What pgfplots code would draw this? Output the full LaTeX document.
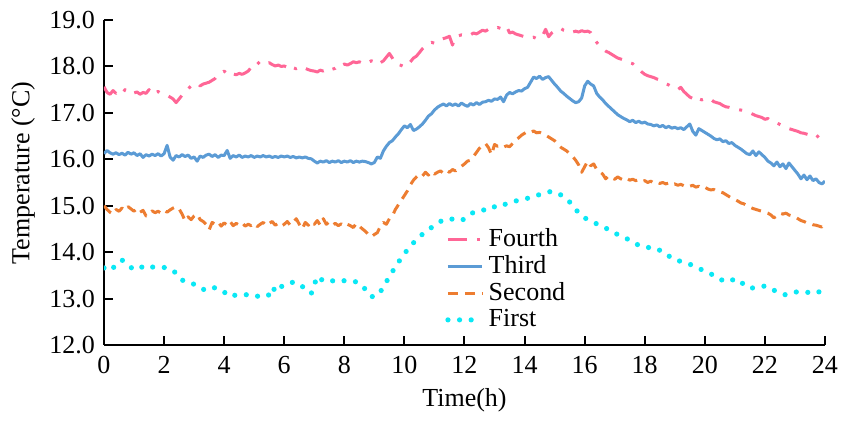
\documentclass[border=0pt]{standalone}
\usepackage{fontspec}
\setmainfont{Liberation Serif}
\usepackage{pgfplots}
\pgfplotsset{compat=1.18}
\definecolor{pinkc}{RGB}{255,102,150}
\definecolor{bluec}{RGB}{91,155,213}
\definecolor{orangec}{RGB}{237,125,49}
\definecolor{cyanc}{RGB}{10,232,245}
\begin{document}
\fontsize{13}{15}\selectfont
\begin{tikzpicture}
\begin{axis}[
  scale only axis, width=360.5pt, height=162.5pt,
  at={(0,0)}, anchor=south west,
  xmin=0, xmax=24, ymin=12, ymax=19,
  xtick={0,2,...,24}, ytick={12,13,...,19},
  axis x line*=bottom, axis y line*=left,
  axis line style={line width=1pt},
  tick align=inside, major tick length=4.5pt,
  tick style={black, line width=1pt},
  /pgf/number format/assume math mode=true,
  yticklabel style={/pgf/number format/.cd, fixed, fixed zerofill, precision=1},
  xticklabel style={yshift=-1pt, inner xsep=0pt},
  xlabel={Time(h)}, ylabel={Temperature (°C)},
  xlabel style={at={(axis description cs:0.5,0)}, anchor=base, yshift=-31pt},
  ylabel style={at={(axis description cs:-0.1123,0.529)}, rotate=0, anchor=center, inner sep=0pt},
  legend style={at={(axis cs:11.15,14.69)}, anchor=north west, draw=none, fill=none, row sep=-1.5pt},
  legend cell align=left,
  every axis plot/.append style={line width=1.5pt, line join=round},
]
% Fourth
\addplot[pinkc, dash pattern=on 9.5pt off 5pt on 1.5pt off 5pt] coordinates {
(0.0,17.56)(0.1,17.44)(0.2,17.40)(0.3,17.48)(0.4,17.42)(0.5,17.46)(0.6,17.41)(0.7,17.50)(0.8,17.44)(0.9,17.46)
(1.0,17.43)(1.1,17.45)(1.2,17.40)(1.3,17.44)(1.4,17.42)(1.5,17.50)(1.6,17.40)(1.7,17.44)(1.8,17.46)(1.9,17.42)
(2.0,17.40)(2.1,17.38)(2.2,17.34)(2.3,17.30)(2.4,17.22)(2.5,17.30)(2.6,17.38)(2.7,17.46)(2.8,17.52)(2.9,17.58)
(3.0,17.60)(3.1,17.64)(3.2,17.58)(3.3,17.62)(3.4,17.64)(3.5,17.66)(3.6,17.70)(3.7,17.74)(3.8,17.82)(3.9,17.86)
(4.0,17.90)(4.1,17.84)(4.2,17.80)(4.3,17.84)(4.4,17.82)(4.5,17.85)(4.6,17.83)(4.7,17.86)(4.8,17.90)(4.9,17.98)
(5.0,18.06)(5.1,18.10)(5.2,18.04)(5.3,18.02)(5.4,18.06)(5.5,18.08)(5.6,18.04)(5.7,18.01)(5.8,18.03)(5.9,18.00)
(6.0,18.01)(6.1,17.98)(6.2,18.03)(6.3,17.97)(6.4,17.95)(6.5,17.98)(6.6,17.94)(6.7,17.96)(6.8,17.93)(6.9,17.91)
(7.0,17.90)(7.1,17.88)(7.2,17.92)(7.3,17.90)(7.4,17.93)(7.5,17.90)(7.6,17.94)(7.7,17.96)(7.8,18.04)(7.9,18.02)
(8.0,18.05)(8.1,18.03)(8.2,18.06)(8.3,18.10)(8.4,18.08)(8.5,18.10)(8.6,18.07)(8.7,18.11)(8.8,18.09)(8.9,18.12)
(9.0,18.10)(9.1,18.14)(9.2,18.08)(9.3,18.12)(9.4,18.20)(9.5,18.28)(9.6,18.18)(9.7,18.06)(9.8,18.04)(9.9,18.02)
(10.0,17.99)(10.1,18.02)(10.2,18.10)(10.3,18.18)(10.4,18.22)(10.5,18.30)(10.6,18.38)(10.7,18.44)(10.8,18.48)(10.9,18.52)
(11.0,18.50)(11.1,18.56)(11.2,18.58)(11.3,18.60)(11.4,18.62)(11.5,18.65)(11.6,18.46)(11.7,18.64)(11.8,18.66)(11.9,18.68)
(12.0,18.67)(12.1,18.70)(12.2,18.68)(12.3,18.72)(12.4,18.70)(12.5,18.74)(12.6,18.78)(12.7,18.76)(12.8,18.80)(12.9,18.82)
(13.0,18.81)(13.1,18.84)(13.2,18.82)(13.3,18.85)(13.4,18.87)(13.5,18.72)(13.6,18.74)(13.7,18.70)(13.8,18.68)(13.9,18.66)
(14.0,18.64)(14.1,18.65)(14.2,18.62)(14.3,18.63)(14.4,18.60)(14.5,18.61)(14.6,18.66)(14.7,18.80)(14.8,18.64)(14.9,18.72)
(15.0,18.76)(15.1,18.80)(15.2,18.82)(15.3,18.78)(15.4,18.76)(15.5,18.78)(15.6,18.74)(15.7,18.76)(15.8,18.74)(15.9,18.77)
(16.0,18.75)(16.1,18.76)(16.2,18.73)(16.3,18.62)(16.4,18.52)(16.5,18.44)(16.6,18.38)(16.7,18.33)(16.8,18.30)(16.9,18.26)
(17.0,18.22)(17.1,18.18)(17.2,18.16)(17.3,18.14)(17.4,18.10)(17.5,18.08)(17.6,18.06)(17.7,18.00)(17.8,17.94)(17.9,17.88)
(18.0,17.83)(18.1,17.80)(18.2,17.78)(18.3,17.76)(18.4,17.73)(18.5,17.71)(18.6,17.67)(18.7,17.63)(18.8,17.60)(18.9,17.56)
(19.0,17.53)(19.1,17.50)(19.2,17.55)(19.3,17.46)(19.4,17.40)(19.5,17.34)(19.6,17.31)(19.7,17.36)(19.8,17.30)(19.9,17.28)
(20.0,17.30)(20.1,17.27)(20.2,17.29)(20.3,17.24)(20.4,17.22)(20.5,17.20)(20.6,17.16)(20.7,17.13)(20.8,17.12)(20.9,17.10)
(21.0,17.09)(21.1,17.07)(21.2,17.06)(21.3,17.05)(21.4,17.03)(21.5,17.00)(21.6,16.97)(21.7,16.94)(21.8,16.92)(21.9,16.90)
(22.0,16.86)(22.1,16.88)(22.2,16.82)(22.3,16.80)(22.4,16.78)(22.5,16.75)(22.6,16.72)(22.7,16.70)(22.8,16.66)(22.9,16.64)
(23.0,16.62)(23.1,16.60)(23.2,16.57)(23.3,16.56)(23.4,16.54)(23.5,16.52)(23.6,16.48)(23.7,16.46)(23.8,16.52)(23.9,16.49)
(24.0,16.58)
};
\addlegendentry{Fourth}
% Third
\addplot[bluec, solid] coordinates {
(0.0,16.12)(0.1,16.19)(0.2,16.14)(0.3,16.11)(0.4,16.14)(0.5,16.10)(0.6,16.13)(0.7,16.09)(0.8,16.15)(0.9,16.11)
(1.0,16.14)(1.1,16.08)(1.2,16.12)(1.3,16.04)(1.4,16.10)(1.5,16.07)(1.6,16.11)(1.7,16.08)(1.8,16.12)(1.9,16.07)
(2.0,16.12)(2.1,16.30)(2.2,16.05)(2.3,15.98)(2.4,16.08)(2.5,16.05)(2.6,16.10)(2.7,16.06)(2.8,16.09)(2.9,16.02)
(3.0,16.05)(3.1,15.96)(3.2,16.07)(3.3,16.04)(3.4,16.09)(3.5,16.11)(3.6,16.06)(3.7,16.10)(3.8,16.04)(3.9,16.09)
(4.0,16.08)(4.1,16.19)(4.2,16.02)(4.3,16.08)(4.4,16.05)(4.5,16.09)(4.6,16.04)(4.7,16.07)(4.8,16.05)(4.9,16.08)
(5.0,16.04)(5.1,16.07)(5.2,16.05)(5.3,16.08)(5.4,16.05)(5.5,16.07)(5.6,16.04)(5.7,16.06)(5.8,16.04)(5.9,16.07)
(6.0,16.05)(6.1,16.07)(6.2,16.04)(6.3,16.06)(6.4,16.03)(6.5,16.05)(6.6,16.03)(6.7,16.05)(6.8,16.02)(6.9,16.01)
(7.0,15.96)(7.1,15.92)(7.2,15.96)(7.3,15.94)(7.4,15.97)(7.5,15.93)(7.6,15.96)(7.7,15.94)(7.8,15.97)(7.9,15.93)
(8.0,15.96)(8.1,15.94)(8.2,15.97)(8.3,15.93)(8.4,15.96)(8.5,15.94)(8.6,15.96)(8.7,15.95)(8.8,15.93)(8.9,15.90)
(9.0,15.93)(9.1,16.05)(9.2,16.02)(9.3,16.18)(9.4,16.28)(9.5,16.36)(9.6,16.40)(9.7,16.48)(9.8,16.55)(9.9,16.64)
(10.0,16.72)(10.1,16.68)(10.2,16.75)(10.3,16.62)(10.4,16.65)(10.5,16.70)(10.6,16.76)(10.7,16.84)(10.8,16.93)(10.9,16.98)
(11.0,17.06)(11.1,17.12)(11.2,17.16)(11.3,17.19)(11.4,17.15)(11.5,17.20)(11.6,17.16)(11.7,17.19)(11.8,17.15)(11.9,17.21)
(12.0,17.17)(12.1,17.14)(12.2,17.20)(12.3,17.17)(12.4,17.22)(12.5,17.18)(12.6,17.23)(12.7,17.24)(12.8,17.27)(12.9,17.25)
(13.0,17.30)(13.1,17.29)(13.2,17.34)(13.3,17.24)(13.4,17.38)(13.5,17.44)(13.6,17.41)(13.7,17.45)(13.8,17.48)(13.9,17.47)
(14.0,17.52)(14.1,17.55)(14.2,17.66)(14.3,17.77)(14.4,17.74)(14.5,17.79)(14.6,17.72)(14.7,17.76)(14.8,17.78)(14.9,17.70)
(15.0,17.62)(15.1,17.55)(15.2,17.47)(15.3,17.42)(15.4,17.36)(15.5,17.31)(15.6,17.26)(15.7,17.22)(15.8,17.24)(15.9,17.32)
(16.0,17.58)(16.1,17.68)(16.2,17.62)(16.3,17.58)(16.4,17.42)(16.5,17.34)(16.6,17.28)(16.7,17.20)(16.8,17.14)(16.9,17.08)
(17.0,17.02)(17.1,16.96)(17.2,16.92)(17.3,16.88)(17.4,16.85)(17.5,16.81)(17.6,16.84)(17.7,16.79)(17.8,16.82)(17.9,16.78)
(18.0,16.80)(18.1,16.76)(18.2,16.75)(18.3,16.72)(18.4,16.74)(18.5,16.70)(18.6,16.73)(18.7,16.68)(18.8,16.71)(18.9,16.67)
(19.0,16.69)(19.1,16.66)(19.2,16.68)(19.3,16.64)(19.4,16.70)(19.5,16.76)(19.6,16.60)(19.7,16.52)(19.8,16.66)(19.9,16.62)
(20.0,16.58)(20.1,16.54)(20.2,16.50)(20.3,16.45)(20.4,16.42)(20.5,16.44)(20.6,16.38)(20.7,16.40)(20.8,16.34)(20.9,16.36)
(21.0,16.30)(21.1,16.26)(21.2,16.22)(21.3,16.17)(21.4,16.12)(21.5,16.10)(21.6,16.18)(21.7,16.08)(21.8,16.16)(21.9,16.10)
(22.0,16.04)(22.1,15.96)(22.2,15.92)(22.3,15.86)(22.4,15.94)(22.5,15.84)(22.6,15.90)(22.7,15.80)(22.8,15.92)(22.9,15.84)
(23.0,15.76)(23.1,15.68)(23.2,15.58)(23.3,15.66)(23.4,15.56)(23.5,15.64)(23.6,15.54)(23.7,15.58)(23.8,15.50)(23.9,15.47)
(24.0,15.53)
};
\addlegendentry{Third}
% Second
\addplot[orangec, dash pattern=on 5pt off 3.5pt] coordinates {
(0.0,15.00)(0.1,14.92)(0.2,14.86)(0.3,14.82)(0.4,14.92)(0.5,14.88)(0.6,14.95)(0.7,14.90)(0.8,14.98)(0.9,14.93)
(1.0,14.88)(1.1,14.94)(1.2,14.86)(1.3,14.90)(1.4,14.78)(1.5,14.82)(1.6,14.89)(1.7,14.85)(1.8,14.88)(1.9,14.84)
(2.0,14.90)(2.1,14.86)(2.2,14.91)(2.3,14.95)(2.4,14.98)(2.5,14.93)(2.6,14.82)(2.7,14.67)(2.8,14.76)(2.9,14.70)
(3.0,14.78)(3.1,14.82)(3.2,14.70)(3.3,14.66)(3.4,14.60)(3.5,14.48)(3.6,14.64)(3.7,14.60)(3.8,14.65)(3.9,14.56)
(4.0,14.63)(4.1,14.58)(4.2,14.66)(4.3,14.57)(4.4,14.62)(4.5,14.58)(4.6,14.63)(4.7,14.56)(4.8,14.60)(4.9,14.57)
(5.0,14.62)(5.1,14.55)(5.2,14.60)(5.3,14.64)(5.4,14.57)(5.5,14.62)(5.6,14.66)(5.7,14.58)(5.8,14.62)(5.9,14.56)
(6.0,14.60)(6.1,14.66)(6.2,14.58)(6.3,14.64)(6.4,14.72)(6.5,14.60)(6.6,14.50)(6.7,14.64)(6.8,14.58)(6.9,14.66)
(7.0,14.60)(7.1,14.68)(7.2,14.58)(7.3,14.72)(7.4,14.60)(7.5,14.65)(7.6,14.58)(7.7,14.62)(7.8,14.57)(7.9,14.61)
(8.0,14.56)(8.1,14.60)(8.2,14.57)(8.3,14.53)(8.4,14.62)(8.5,14.56)(8.6,14.50)(8.7,14.45)(8.8,14.38)(8.9,14.33)
(9.0,14.38)(9.1,14.42)(9.2,14.56)(9.3,14.64)(9.4,14.60)(9.5,14.72)(9.6,14.78)(9.7,14.92)(9.8,15.02)(9.9,15.12)
(10.0,15.22)(10.1,15.32)(10.2,15.45)(10.3,15.55)(10.4,15.62)(10.5,15.68)(10.6,15.64)(10.7,15.72)(10.8,15.66)(10.9,15.74)
(11.0,15.68)(11.1,15.72)(11.2,15.75)(11.3,15.70)(11.4,15.76)(11.5,15.72)(11.6,15.78)(11.7,15.75)(11.8,15.80)(11.9,15.85)
(12.0,15.90)(12.1,15.96)(12.2,15.98)(12.3,16.06)(12.4,16.15)(12.5,16.24)(12.6,16.30)(12.7,16.34)(12.8,16.25)(12.9,16.10)
(13.0,16.32)(13.1,16.28)(13.2,16.30)(13.3,16.26)(13.4,16.29)(13.5,16.27)(13.6,16.34)(13.7,16.42)(13.8,16.46)(13.9,16.52)
(14.0,16.56)(14.1,16.60)(14.2,16.58)(14.3,16.61)(14.4,16.57)(14.5,16.58)(14.6,16.55)(14.7,16.52)(14.8,16.48)(14.9,16.44)
(15.0,16.40)(15.1,16.32)(15.2,16.26)(15.3,16.22)(15.4,16.18)(15.5,16.12)(15.6,16.06)(15.7,15.98)(15.8,15.88)(15.9,15.72)
(16.0,15.84)(16.1,15.96)(16.2,15.86)(16.3,15.90)(16.4,15.78)(16.5,15.74)(16.6,15.68)(16.7,15.58)(16.8,15.64)(16.9,15.60)
(17.0,15.57)(17.1,15.62)(17.2,15.58)(17.3,15.55)(17.4,15.59)(17.5,15.55)(17.6,15.57)(17.7,15.54)(17.8,15.56)(17.9,15.52)
(18.0,15.54)(18.1,15.50)(18.2,15.53)(18.3,15.49)(18.4,15.51)(18.5,15.48)(18.6,15.50)(18.7,15.47)(18.8,15.49)(18.9,15.45)
(19.0,15.47)(19.1,15.44)(19.2,15.46)(19.3,15.43)(19.4,15.45)(19.5,15.42)(19.6,15.44)(19.7,15.40)(19.8,15.42)(19.9,15.38)
(20.0,15.40)(20.1,15.36)(20.2,15.34)(20.3,15.35)(20.4,15.31)(20.5,15.30)(20.6,15.28)(20.7,15.24)(20.8,15.20)(20.9,15.16)
(21.0,15.13)(21.1,15.10)(21.2,15.06)(21.3,15.04)(21.4,15.00)(21.5,14.97)(21.6,14.94)(21.7,14.92)(21.8,14.90)(21.9,14.88)
(22.0,14.86)(22.1,14.84)(22.2,14.80)(22.3,14.74)(22.4,14.78)(22.5,14.84)(22.6,14.82)(22.7,14.84)(22.8,14.80)(22.9,14.78)
(23.0,14.76)(23.1,14.72)(23.2,14.68)(23.3,14.66)(23.4,14.63)(23.5,14.62)(23.6,14.59)(23.7,14.58)(23.8,14.56)(23.9,14.54)
(24.0,14.64)
};
\addlegendentry{Second}
% First
\addplot[cyanc, line width=2.6pt, line cap=round, dash pattern=on 0pt off 5.8pt] coordinates {
(0.0,13.66)(0.2,13.60)(0.4,13.72)(0.6,13.83)(0.8,13.72)(1.0,13.62)(1.2,13.66)(1.4,13.72)(1.6,13.68)(1.8,13.67)
(2.0,13.67)(2.2,13.64)(2.4,13.55)(2.6,13.40)(2.8,13.33)(3.0,13.31)(3.2,13.22)(3.4,13.18)(3.6,13.24)(3.8,13.22)
(4.0,13.14)(4.2,13.04)(4.4,13.08)(4.6,13.09)(4.8,13.08)(5.0,13.04)(5.2,13.06)(5.4,13.10)(5.6,13.04)(5.7,13.30)
(5.9,13.26)(6.1,13.28)(6.3,13.36)(6.5,13.30)(6.7,13.22)(6.9,13.11)(7.1,13.48)(7.3,13.38)(7.5,13.36)(7.7,13.40)
(7.9,13.38)(8.1,13.39)(8.3,13.38)(8.5,13.33)(8.7,13.20)(8.9,13.04)(9.1,13.06)(9.3,13.24)(9.5,13.48)(9.7,13.68)
(9.9,13.88)(10.1,14.05)(10.3,14.20)(10.5,14.33)(10.7,14.44)(10.9,14.53)(11.1,14.62)(11.3,14.70)(11.5,14.72)(11.7,14.70)
(11.9,14.68)(12.1,14.76)(12.3,14.86)(12.5,14.88)(12.7,14.92)(12.9,14.99)(13.1,14.96)(13.3,15.02)(13.5,15.06)(13.7,15.10)
(13.9,15.14)(14.1,15.16)(14.3,15.20)(14.5,15.24)(14.7,15.28)(14.9,15.31)(15.1,15.27)(15.3,15.20)(15.5,15.08)(15.7,14.92)
(15.9,14.78)(16.1,14.70)(16.3,14.64)(16.5,14.58)(16.7,14.52)(16.9,14.44)(17.1,14.38)(17.3,14.32)(17.5,14.26)(17.7,14.18)
(17.9,14.12)(18.1,14.10)(18.3,14.10)(18.5,14.04)(18.7,13.98)(18.9,13.86)(19.1,13.82)(19.3,13.78)(19.5,13.74)(19.7,13.68)
(19.9,13.62)(20.1,13.56)(20.3,13.50)(20.5,13.42)(20.7,13.36)(20.9,13.40)(21.1,13.42)(21.3,13.30)(21.5,13.22)(21.7,13.24)
(21.9,13.27)(22.1,13.26)(22.3,13.18)(22.5,13.11)(22.7,13.08)(22.9,13.12)(23.1,13.15)(23.3,13.14)(23.5,13.13)(23.7,13.11)
(23.9,13.18)(24.0,13.26)
};
\addlegendentry{First}
\end{axis}
\path (-52pt,-35.5pt) rectangle (369pt,172.5pt);
\end{tikzpicture}
\end{document}
